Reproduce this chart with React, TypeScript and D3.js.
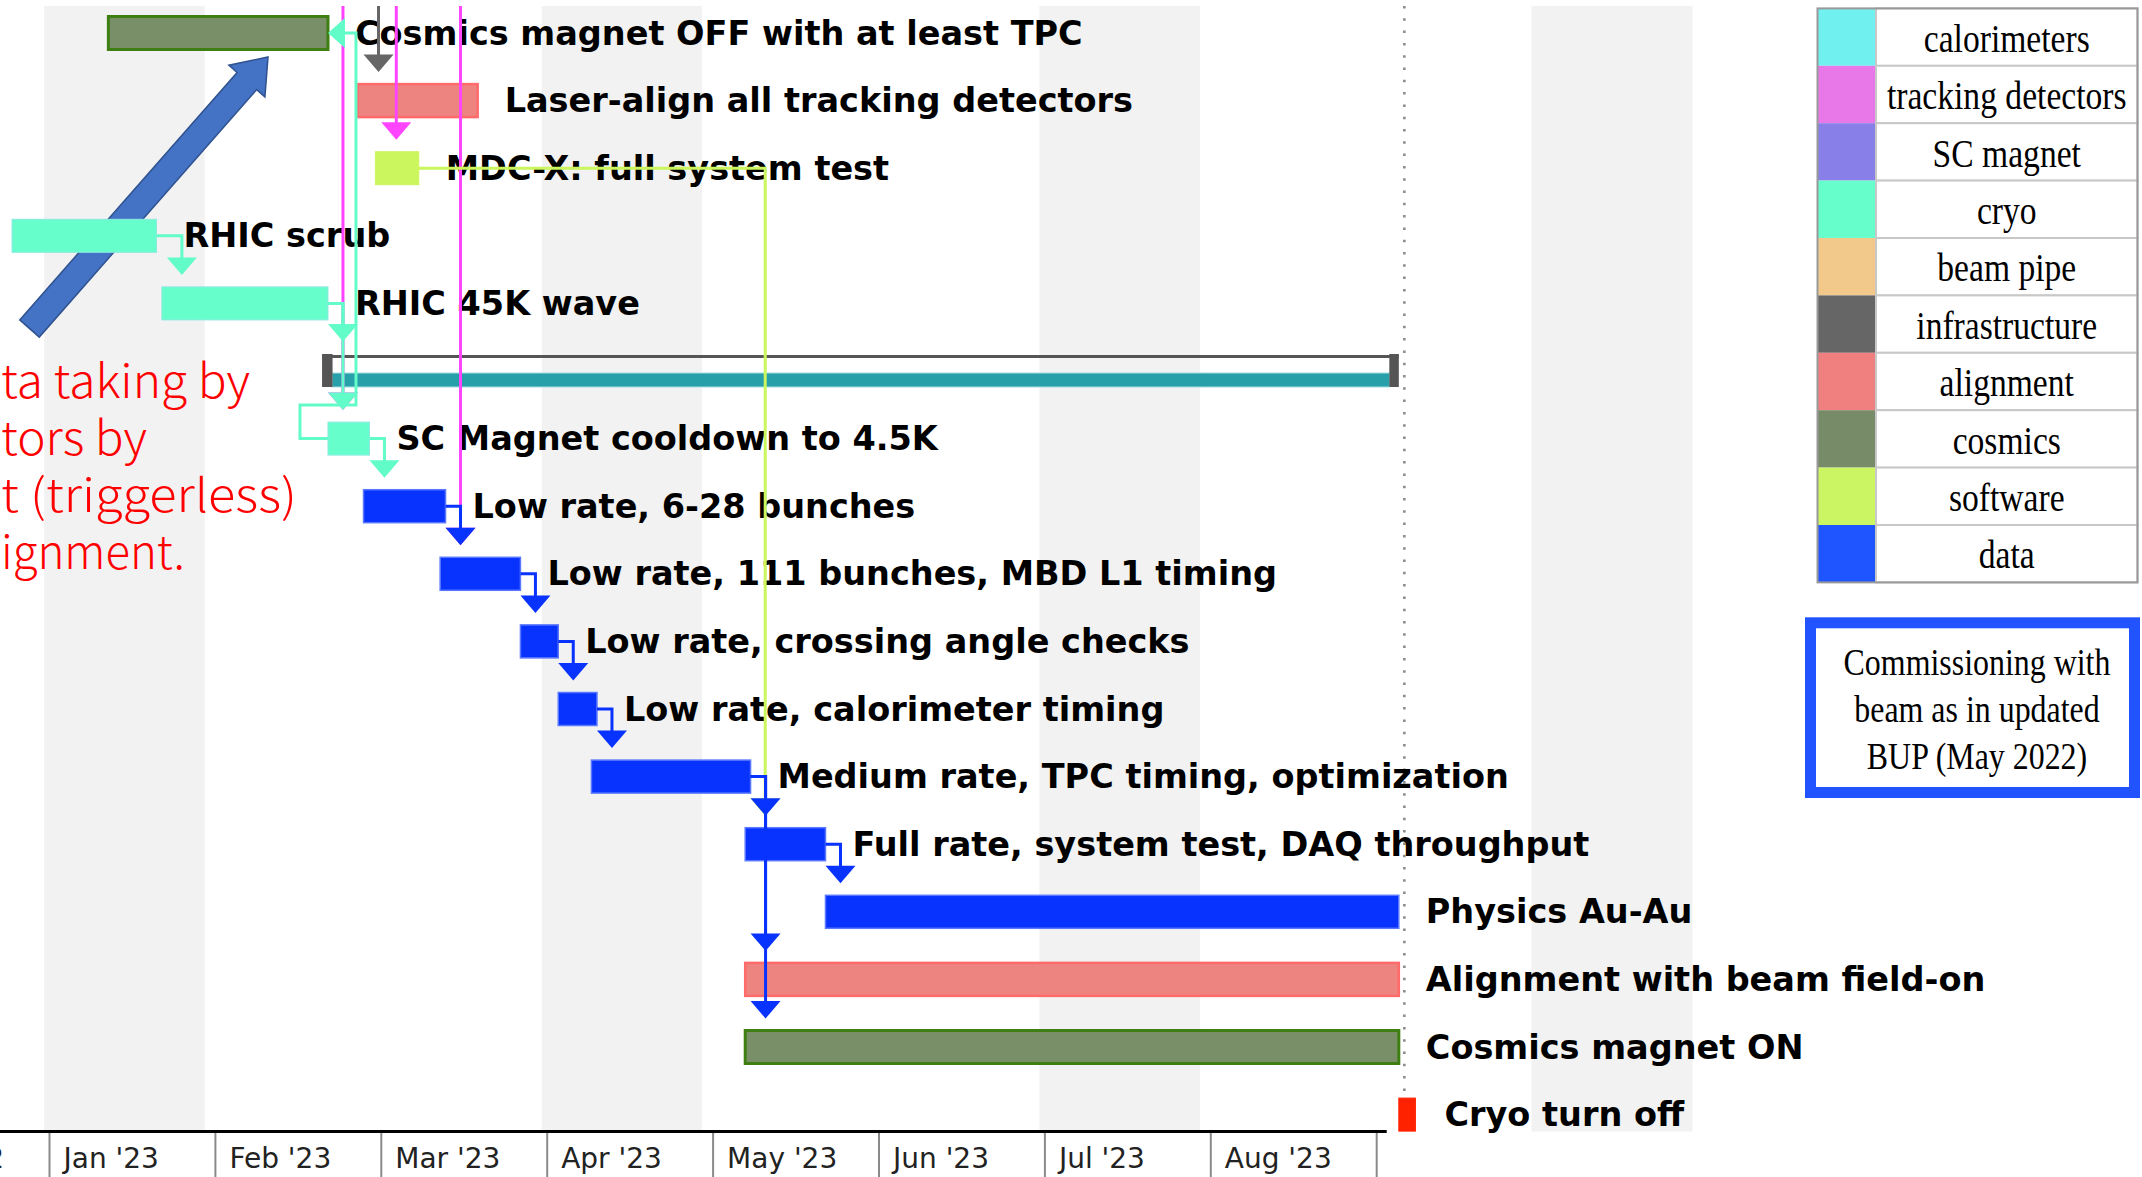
import React from "react";
import * as d3 from "d3";

const WIDTH = 2142;
const HEIGHT = 1177;

// gantt rows, top to bottom ("" = summary row without label)
const taskNames = [
  "Cosmics magnet OFF with at least TPC",
  "Laser-align all tracking detectors",
  "MDC-X: full system test",
  "RHIC scrub",
  "RHIC 45K wave",
  "",
  "SC Magnet cooldown to 4.5K",
  "Low rate, 6-28 bunches",
  "Low rate, 111 bunches, MBD L1 timing",
  "Low rate, crossing angle checks",
  "Low rate, calorimeter timing",
  "Medium rate, TPC timing, optimization",
  "Full rate, system test, DAQ throughput",
  "Physics Au-Au",
  "Alignment with beam field-on",
  "Cosmics magnet ON",
  "Cryo turn off",
];
const taskStart = [
  "2023-01-12", "2023-02-25", "2023-02-28", "2022-12-25", "2023-01-22", "2023-02-19",
  "2023-02-20", "2023-02-26", "2023-03-12", "2023-03-27", "2023-04-03", "2023-04-09",
  "2023-05-07", "2023-05-22", "2023-05-07", "2023-05-07", "2023-09-05",
];
const taskEnd = [
  "2023-02-20", "2023-03-19", "2023-03-08", "2023-01-21", "2023-02-20", "2023-09-05",
  "2023-02-27", "2023-03-13", "2023-03-27", "2023-04-03", "2023-04-10", "2023-05-08",
  "2023-05-22", "2023-09-05", "2023-09-05", "2023-09-05", "2023-09-08",
];
const taskType = [
  "cosmics", "alignment", "software", "cryo", "cryo", "summary", "cryo", "data", "data",
  "data", "data", "data", "data", "data", "alignment", "cosmics", "off",
];

// dependencies [from, to], drawn in this order
const links = [
  [2, 12],
  [3, 4], [4, 5], [4, 6], [6, 7],
  [7, 8], [8, 9], [9, 10], [10, 11], [11, 12], [11, 14], [11, 15], [12, 13],
];
const backLinks = [[6, 0]];
// predecessors above the visible area
const extEnd = ["2023-02-20", "2023-02-26", "2023-03-01", "2023-03-13"];
const extTo = [6, 1, 2, 8];
const extType = ["tracking", "infra", "tracking", "tracking"];

// axis
const axisMonths = ["2022-12-01", "2023-01-01", "2023-02-01", "2023-03-01", "2023-04-01", "2023-05-01", "2023-06-01", "2023-07-01", "2023-08-01"];
const axisLabels = ["Dec '22", "Jan '23", "Feb '23", "Mar '23", "Apr '23", "May '23", "Jun '23", "Jul '23", "Aug '23"];
const axisEnd = "2023-09-01";
const shadeStart = ["2022-12-31", "2023-03-31", "2023-06-30", "2023-09-29"];
const shadeEnd = ["2023-01-30", "2023-04-29", "2023-07-30", "2023-10-29"];
const markerDate = "2023-09-06";

// legend
const legendNames = ["calorimeters", "tracking detectors", "SC magnet", "cryo", "beam pipe", "infrastructure", "alignment", "cosmics", "software", "data"];
const legendColors = ["#70f0ee", "#e878e8", "#8880e8", "#66ffcc", "#f3c98b", "#666666", "#f08080", "#778b69", "#cbf562", "#1f55ff"];

const noteLines = ["Commissioning with", "beam as in updated", "BUP (May 2022)"];
// cut-off note on the left edge, with the right end of each line
const redLines = ["ta taking by", "tors by", "t (triggerless)", "ignment."];
const redRight = [250, 147, 297, 185];

const barStyle: Record<string, { fill: string; stroke: string; sw: number }> = {
  cosmics: { fill: "#788f67", stroke: "#3d7f12", sw: 3 },
  alignment: { fill: "#ee8480", stroke: "#ff6a6a", sw: 2.5 },
  software: { fill: "#ccf65e", stroke: "#ccf65e", sw: 1 },
  cryo: { fill: "#66ffcc", stroke: "#8ee8e0", sw: 1 },
  data: { fill: "#0833ff", stroke: "#5a78ff", sw: 1.5 },
  off: { fill: "#ff2200", stroke: "#ff2200", sw: 1 },
};
const linkColor: Record<string, string> = {
  cryo: "#62fcc8",
  data: "#0833ff",
  software: "#ccf65e",
  tracking: "#ff44ff",
  infra: "#666666",
};

// months are drawn with equal widths, so a date becomes a fractional month index
function monthPos(s: string) {
  const [y, m, d] = s.split("-").map(Number);
  const dim = new Date(Date.UTC(y, m, 0)).getUTCDate();
  return (y - 2023) * 12 + (m - 1) + (d - 1) / dim;
}

const x = d3.scaleLinear().domain([0, 8]).range([49.5, 1376.7]);
const y = d3.scalePoint<number>().domain(d3.range(taskNames.length)).range([33, 1114.6]);
const BAR_H = 33;
const CHART_TOP = 6;
const AXIS_Y = 1131.5;
const ARROW_W = 30;
const ARROW_H = 17.5;

const xs = (i: number) => x(monthPos(taskStart[i]));
const xe = (i: number) => x(monthPos(taskEnd[i]));
const top = (i: number) => (y(i) as number) - (taskType[i] === "summary" ? 17.5 : BAR_H / 2);

function downArrow(px: number, tip: number) {
  return `${px - ARROW_W / 2},${tip - ARROW_H} ${px + ARROW_W / 2},${tip - ARROW_H} ${px},${tip}`;
}

function routeX(from: number, to: number) {
  return xs(to) > xe(from) ? xs(to) + 20 : xe(from) + 15;
}

function bigArrow() {
  const tail = [29.5, 328.5];
  const tip = [268, 57];
  const len = Math.hypot(tip[0] - tail[0], tip[1] - tail[1]);
  const d = [(tip[0] - tail[0]) / len, (tip[1] - tail[1]) / len];
  const p = [-d[1], d[0]];
  const hb = [tip[0] - d[0] * 32, tip[1] - d[1] * 32];
  const pt = (c: number[], k: number) => `${c[0] + p[0] * k},${c[1] + p[1] * k}`;
  return [pt(tail, -13), pt(hb, -13), pt(hb, -24), `${tip[0]},${tip[1]}`, pt(hb, 24), pt(hb, 13), pt(tail, 13)].join(" ");
}

function GanttChart() {
  const labelFont = "'DejaVu Sans', Verdana, sans-serif";
  const serif = "'Liberation Serif', 'Times New Roman', serif";
  const sx = 0.84;
  const legTop = 8.4;
  const legRow = 57.4;
  const legX0 = 1817.5;
  const legX1 = 1876;
  const legX2 = 2137.5;

  return (
    <svg width={WIDTH} height={HEIGHT} style={{ position: "absolute", left: 0, top: 0, background: "#fff" }}>
      {/* shaded months */}
      {shadeStart.map((s, i) => (
        <rect key={"sh" + i} x={x(monthPos(s))} y={CHART_TOP} width={x(monthPos(shadeEnd[i])) - x(monthPos(s))} height={AXIS_Y - CHART_TOP} fill="#f2f2f2" />
      ))}

      {/* end marker */}
      <line x1={x(monthPos(markerDate))} x2={x(monthPos(markerDate))} y1={CHART_TOP} y2={AXIS_Y} stroke="#888" strokeWidth={2.5} strokeDasharray="2.5,9.8" />

      {/* annotation arrow and red note */}
      <polygon points={bigArrow()} fill="#4472c4" stroke="#2f528f" strokeWidth={1.5} />
      {redLines.map((t, i) => (
        <text key={"r" + i} x={1} y={398 + i * 57} textLength={redRight[i] - 1} lengthAdjust="spacingAndGlyphs" fontFamily="'Noto Sans CJK JP', 'Noto Sans', sans-serif" fontWeight={300} fontSize={46} fill="#ff0000">
          {t}
        </text>
      ))}

      {/* bars */}
      {taskNames.map((name, i) => {
        const x0 = xs(i);
        const x1 = xe(i);
        const cy = y(i) as number;
        if (taskType[i] === "summary") {
          return (
            <g key={"b" + i}>
              <line x1={x0} x2={x1} y1={cy - 14.5} y2={cy - 14.5} stroke="#555" strokeWidth={3} />
              <rect x={x0 + 10} y={cy + 2} width={x1 - x0 - 19} height={14} fill="#27a0aa" stroke="#a8dde2" strokeWidth={1} />
              <rect x={x0} y={cy - 17} width={10.5} height={33} fill="#555" />
              <rect x={x1 - 9.5} y={cy - 17} width={9.5} height={33} fill="#555" />
            </g>
          );
        }
        const st = barStyle[taskType[i]];
        return (
          <rect key={"b" + i} x={x0} y={cy - BAR_H / 2} width={x1 - x0} height={BAR_H} fill={st.fill} stroke={st.stroke} strokeWidth={st.sw} />
        );
      })}

      {/* labels */}
      {taskNames.map((name, i) =>
        name ? (
          <text key={"l" + i} x={xe(i) + (taskType[i] === "off" ? 29 : 27)} y={(y(i) as number) + 11.5} fontFamily={labelFont} fontWeight="bold" fontSize={33.5} fill="#000">
            {name}
          </text>
        ) : null
      )}

      {/* dependencies from tasks above the view */}
      {extEnd.map((e, i) => {
        const px = x(monthPos(e)) + 15;
        const tip = top(extTo[i]) - 12;
        const c = linkColor[extType[i]];
        return (
          <g key={"e" + i}>
            <line x1={px} x2={px} y1={CHART_TOP} y2={tip - 4} stroke={c} strokeWidth={3} />
            <polygon points={downArrow(px, tip)} fill={c} />
          </g>
        );
      })}

      {/* dependencies */}
      {links.map(([a, b], i) => {
        const px = routeX(a, b);
        const tip = top(b) - 12;
        const c = linkColor[taskType[a]];
        return (
          <g key={"k" + i}>
            <path d={`M${xe(a)},${y(a)}H${px}V${tip - 4}`} fill="none" stroke={c} strokeWidth={3} />
            <polygon points={downArrow(px, tip)} fill={c} />
          </g>
        );
      })}
      {backLinks.map(([a, b], i) => {
        const c = linkColor[taskType[a]];
        const ex = xe(b);
        const cy = y(b) as number;
        return (
          <g key={"bk" + i}>
            <path d={`M${xs(a)},${y(a)}H${xs(a) - 28}V${top(a) - 17}H${ex + 28}V${cy}H${ex + 15}`} fill="none" stroke={c} strokeWidth={3} />
            <polygon points={`${ex},${cy} ${ex + 17},${cy - 15} ${ex + 17},${cy + 15}`} fill={c} />
          </g>
        );
      })}

      {/* time axis */}
      <line x1={0} x2={x(monthPos(axisEnd)) + 10} y1={AXIS_Y} y2={AXIS_Y} stroke="#000" strokeWidth={3} />
      {[...axisMonths, axisEnd].map((m, i) => (
        <line key={"t" + i} x1={x(monthPos(m))} x2={x(monthPos(m))} y1={AXIS_Y + 1.5} y2={HEIGHT} stroke="#8a8a8a" strokeWidth={2} />
      ))}
      {axisLabels.map((l, i) => (
        <text key={"a" + i} x={x(monthPos(axisMonths[i])) + 14} y={1168} fontFamily={labelFont} fontSize={28} fill="#222">
          {l}
        </text>
      ))}

      {/* legend table */}
      {legendNames.map((n, i) => {
        const ry = legTop + i * legRow;
        return (
          <g key={"lg" + i}>
            <rect x={legX0} y={ry} width={legX1 - legX0} height={legRow} fill={legendColors[i]} />
            <rect x={legX1} y={ry} width={legX2 - legX1} height={legRow} fill="#fff" stroke="#c8c8c8" strokeWidth={2} />
            <text transform={`translate(${(legX1 + legX2) / 2},${ry + 43.3}) scale(${sx},1)`} textAnchor="middle" fontFamily={serif} fontSize={40} fill="#000">
              {n}
            </text>
          </g>
        );
      })}
      <rect x={legX0} y={legTop} width={legX2 - legX0} height={legRow * legendNames.length} fill="none" stroke="#999" strokeWidth={2} />

      {/* note box */}
      <rect x={1810.5} y={622.8} width={324} height={169.7} fill="#fff" stroke="#2154ff" strokeWidth={11} />
      {noteLines.map((t, i) => (
        <text key={"n" + i} transform={`translate(1977,${675 + i * 47}) scale(${sx},1)`} textAnchor="middle" fontFamily={serif} fontSize={38} fill="#000">
          {t}
        </text>
      ))}
    </svg>
  );
}

export default function App() {
  return <GanttChart />;
}
